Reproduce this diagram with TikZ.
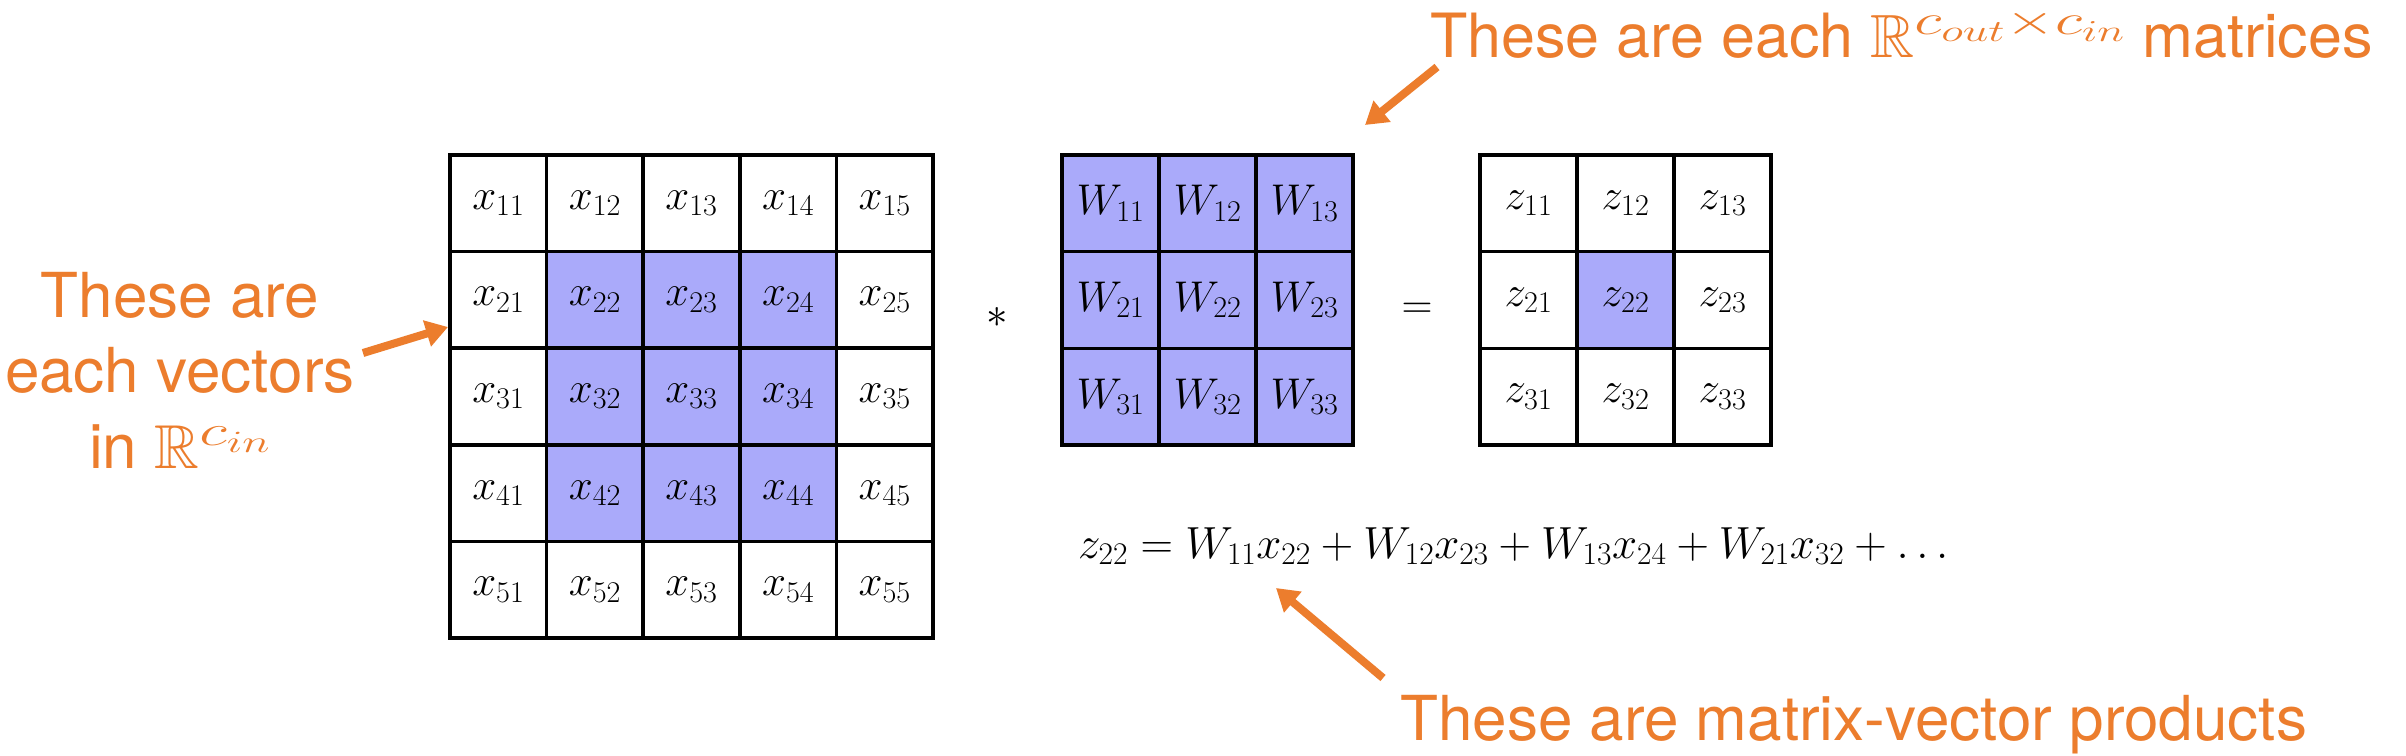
\documentclass[tikz,border=0pt]{standalone}
\usepackage{fix-cm}
\usepackage{amssymb}
\usepackage{graphicx}
\usepackage{fontspec}
\newfontfamily\ofont{TeX Gyre Heros}
\usetikzlibrary{arrows.meta}
\definecolor{kor}{RGB}{236,125,45}
\definecolor{kfill}{RGB}{170,170,250}
\newcommand{\widesup}[1]{\scalebox{1.5}[1]{$\scriptstyle #1$}}
\begin{document}
\begin{tikzpicture}[x=1pt,y=-1pt,
  bigcell/.style={draw=black, line width=3.5pt, minimum width=96.6pt, minimum height=96.6pt, inner sep=0pt, font=\fontsize{43}{50}\selectfont},
  smallcell/.style={bigcell, minimum width=97pt, minimum height=96.7pt},
  note/.style={text=kor, font=\ofont\fontsize{62}{76}\selectfont, inner sep=0pt},
  pointer/.style={draw=kor, line width=8pt, -{Triangle[width=26pt,length=22pt]}},
  mathsym/.style={inner sep=0pt, font=\fontsize{43}{50}\selectfont}
]
\useasboundingbox (0,0) rectangle (2406,755);
\fill[white] (0,0) rectangle (2406,755);

% input grid
\foreach \i in {1,...,5} \foreach \j in {1,...,5} {
  \pgfmathtruncatemacro\cellhot{(\i>1)&&(\i<5)&&(\j>1)&&(\j<5)}
  \edef\cellfill{\ifnum\cellhot=1 kfill\else white\fi}
  \node[bigcell, fill=\cellfill] (x\i\j) at ({450+96.6*(\j-0.5)},{155+96.6*(\i-0.5)}) {$x_{\i\j}$};
}

% kernel grid
\foreach \i in {1,...,3} \foreach \j in {1,...,3} {
  \node[smallcell, fill=kfill] (w\i\j) at ({1062+97*(\j-0.5)},{155+96.7*(\i-0.5)}) {$W_{\i\j}$};
}

% output grid
\foreach \i in {1,...,3} \foreach \j in {1,...,3} {
  \pgfmathtruncatemacro\cellhot{(\i==2)&&(\j==2)}
  \edef\cellfill{\ifnum\cellhot=1 kfill\else white\fi}
  \node[smallcell, fill=\cellfill] (z\i\j) at ({1480+97*(\j-0.5)},{155+96.7*(\i-0.5)}) {$z_{\i\j}$};
}

\node[mathsym] (star) at (997,317) {$*$};
\node[mathsym] (eqsign) at (1417,311) {$=$};

\node[anchor=base west, inner sep=0pt, font=\fontsize{45}{52}\selectfont] (eq) at (1078,558)
  {$z_{22} = W_{11}x_{22} + W_{12}x_{23} + W_{13}x_{24} + W_{21}x_{32} + \ldots$};

% annotations
\node[note, anchor=base] (lt1) at (180,317) {These are};
\node[note, anchor=base] (lt2) at (180,392) {each vectors};
\node[note, anchor=base] (lt3) at (180,468) {in $\mathbb{R}^{\widesup{c_{in}}}$};
\node[note, anchor=base west, font=\ofont\fontsize{61}{72}\selectfont] (tt) at (1430,57)
  {These are each $\mathbb{R}^{\widesup{c_{out}{\times}c_{in}}}$ matrices};
\node[note, anchor=base west] (bt) at (1400,740) {These are matrix-vector products};

\coordinate (a1s) at (363,353);
\coordinate (a1e) at (448,327);
\coordinate (a2s) at (1437,67);
\coordinate (a2e) at (1365,125);
\coordinate (a3s) at (1383,678);
\coordinate (a3e) at (1276,588);
\draw[pointer] (a1s) -- (a1e);
\draw[pointer] (a2s) -- (a2e);
\draw[pointer] (a3s) -- (a3e);
\end{tikzpicture}
\end{document}
